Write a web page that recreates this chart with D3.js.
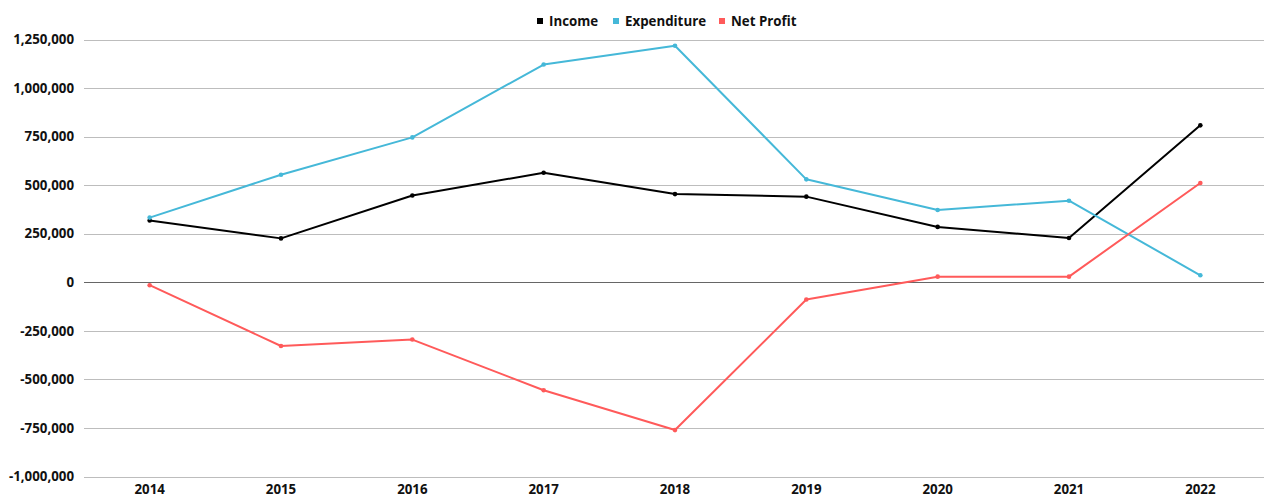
<html>
<head>
<meta charset="utf-8">
<style>
  body { margin: 0; background: #fff; }
  text { font-family: "Open Sans", sans-serif; font-weight: 700; }
</style>
</head>
<body>
<svg id="chart" width="1264" height="497"></svg>
<script src="https://d3js.org/d3.v7.min.js"></script>
<script>

// data
var years = ["2014", "2015", "2016", "2017", "2018", "2019", "2020", "2021", "2022"]
var income = [318000, 226000, 447000, 564000, 454000, 441000, 285000, 228000, 808000]
var expenditure = [333000, 554000, 746000, 1121000, 1218000, 530000, 372000, 420000, 36000]
var netProfit = [-15000, -328000, -295000, -556000, -761000, -89000, 29000, 29000, 511000]
var yTicks = [-1000000, -750000, -500000, -250000, 0, 250000, 500000, 750000, 1000000, 1250000]

var series = [
  {name: "Income", values: income, color: "#000000"},
  {name: "Expenditure", values: expenditure, color: "#45b8d8"},
  {name: "Net Profit", values: netProfit, color: "#ff5a5a"}
]

var svg = d3.select("#chart")

var x = d3.scaleBand()
  .domain(years)
  .range([84, 1266])

var y = d3.scaleLinear()
  .domain([-1000000, 1250000])
  .range([476.5, 39.5])

// plain hyphen for negatives, like the original
var fmt = function(d) { return d3.format(",")(d).replace("\u2212", "-") }

// gridlines
svg.append("g")
  .selectAll("line")
  .data(yTicks)
  .enter()
  .append("line")
    .attr("x1", 84)
    .attr("x2", 1264)
    .attr("y1", d => Math.round(y(d)) + 0.5)
    .attr("y2", d => Math.round(y(d)) + 0.5)
    .attr("stroke", d => d === 0 ? "#666" : "#bdbdbd")
    .attr("stroke-width", 1)

// y axis labels
var yAxis = svg.append("g")
  .attr("transform", "translate(84,0)")
  .call(d3.axisLeft(y).tickValues(yTicks).tickSize(0).tickPadding(10).tickFormat(fmt))
yAxis.select(".domain").remove()
yAxis.selectAll("text")
  .attr("font-family", "'Open Sans', sans-serif")
  .attr("font-weight", 700)
  .attr("font-size", 13.3)
  .attr("fill", "#111")

// x axis labels
var xAxis = svg.append("g")
  .attr("transform", "translate(0,476)")
  .call(d3.axisBottom(x).tickSize(0).tickPadding(9))
xAxis.select(".domain").remove()
xAxis.selectAll("text")
  .attr("font-family", "'Open Sans', sans-serif")
  .attr("font-weight", 700)
  .attr("font-size", 13.3)
  .attr("fill", "#111")

var line = d3.line()
  .x((d, i) => x(years[i]) + x.bandwidth() / 2)
  .y(d => y(d))

series.forEach(function(s) {
  svg.append("path")
    .attr("d", line(s.values))
    .attr("fill", "none")
    .attr("stroke", s.color)
    .attr("stroke-width", 2)
    .attr("stroke-linejoin", "round")

  svg.append("g")
    .selectAll("circle")
    .data(s.values)
    .enter()
    .append("circle")
      .attr("cx", (d, i) => x(years[i]) + x.bandwidth() / 2)
      .attr("cy", d => y(d))
      .attr("r", 2.3)
      .attr("fill", s.color)
})

// legend
var legendX = [537, 613, 719]
var legend = svg.append("g")
  .selectAll("g")
  .data(series)
  .enter()
  .append("g")
    .attr("transform", (d, i) => "translate(" + legendX[i] + ",21)")

legend.append("rect")
  .attr("x", 0)
  .attr("y", -3)
  .attr("width", 6)
  .attr("height", 6)
  .attr("fill", d => d.color)

legend.append("text")
  .attr("x", 12)
  .attr("y", 0)
  .attr("dy", "0.35em")
  .attr("font-size", 13.3)
  .attr("fill", "#111")
  .text(d => d.name)

</script>
</body>
</html>
